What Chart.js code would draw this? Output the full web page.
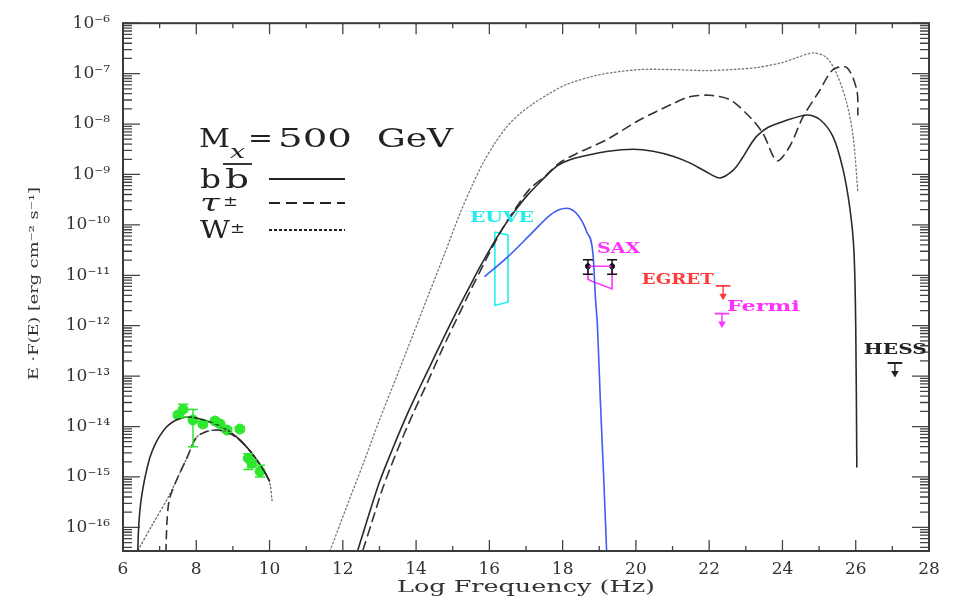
<!doctype html>
<html>
<head>
<meta charset="utf-8">
<title>SED M_x = 500 GeV</title>
<script src="https://cdn.jsdelivr.net/npm/chart.js"></script>
<style>
  html, body { margin: 0; padding: 0; background: #fff; }
  #wrap { width: 956px; height: 603px; }
</style>
</head>
<body>
<div id="wrap"><canvas id="sed"></canvas></div>
<script>
// x = log frequency (Hz), y = log10 of E·F(E) [erg cm^-2 s^-1]

// b bbar (solid)
const bbLowX = [6.40, 6.42, 6.47, 6.55, 6.65, 6.75, 6.88, 7.0, 7.2, 7.4, 7.6, 7.8, 8.0, 8.2, 8.45, 8.7, 8.95, 9.2, 9.45, 9.65, 9.85, 10.0];
const bbLowLogF = [-16.6, -16.1, -15.6, -15.2, -14.85, -14.58, -14.35, -14.19, -14.0, -13.89, -13.83, -13.81, -13.83, -13.87, -13.93, -14.01, -14.12, -14.27, -14.47, -14.66, -14.88, -15.08];
const bbHighX = [12.41, 12.71, 13.01, 13.36, 13.75, 14.05, 14.38, 14.75, 15.12, 15.45, 15.74, 16.05, 16.37, 16.7, 17.03, 17.44, 17.85, 18.2, 18.55, 19.24, 19.92, 20.47, 21.01, 21.47, 21.88, 22.29, 22.65, 22.9, 23.11, 23.3, 23.6, 24.02, 24.67, 25.02, 25.38, 25.65, 25.84, 25.95, 26.0, 26.03];
const bbHighLogF = [-16.45, -15.75, -15.08, -14.44, -13.77, -13.3, -12.8, -12.24, -11.7, -11.24, -10.84, -10.44, -10.06, -9.72, -9.42, -9.11, -8.83, -8.71, -8.64, -8.54, -8.5, -8.54, -8.64, -8.77, -8.93, -9.07, -8.92, -8.68, -8.43, -8.24, -8.07, -7.95, -7.82, -7.91, -8.25, -8.89, -9.67, -10.5, -12.0, -14.8];

// tau+- (dashed)
const tauLowX = [7.17, 7.2, 7.25, 7.33, 7.5, 7.74, 8.0, 8.28, 8.56, 8.8, 9.0, 9.2, 9.45, 9.65, 9.85, 10.0];
const tauLowLogF = [-16.5, -15.9, -15.5, -15.3, -15.0, -14.63, -14.22, -14.1, -14.07, -14.1, -14.17, -14.28, -14.47, -14.66, -14.88, -15.08];
const tauHighX = [12.55, 12.8, 13.1, 13.5, 13.9, 14.3, 14.7, 15.1, 15.5, 15.9, 16.3, 16.7, 17.1, 17.5, 17.9, 18.4, 19.2, 20.1, 21.0, 21.47, 22.02, 22.57, 23.11, 23.47, 23.85, 24.2, 24.56, 25.02, 25.38, 25.76, 26.03, 26.06];
const tauHighLogF = [-16.45, -15.88, -15.2, -14.45, -13.77, -13.14, -12.49, -11.88, -11.28, -10.7, -10.15, -9.69, -9.29, -9.05, -8.78, -8.58, -8.31, -7.92, -7.6, -7.46, -7.43, -7.52, -7.86, -8.19, -8.73, -8.44, -7.86, -7.33, -6.92, -6.88, -7.33, -7.82];

// W+- (dotted)
const wLowX = [6.41, 6.8, 7.28, 7.5, 7.74, 8.0, 8.28, 8.56, 8.8, 9.0, 9.2, 9.45, 9.65, 9.85, 10.0, 10.07];
const wLowLogF = [-16.45, -15.95, -15.34, -15.0, -14.63, -14.22, -14.1, -14.07, -14.1, -14.17, -14.28, -14.47, -14.66, -14.88, -15.1, -15.47];
const wHighX = [11.65, 12.1, 12.55, 13.0, 13.48, 13.93, 14.38, 14.79, 15.2, 15.53, 15.83, 16.15, 16.48, 16.84, 17.19, 17.65, 18.12, 19.02, 20.11, 21.01, 21.94, 22.8, 23.3, 24.0, 24.4, 24.83, 25.2, 25.49, 25.76, 25.93, 26.06];
const wHighLogF = [-16.47, -15.6, -14.75, -13.87, -12.99, -12.15, -11.31, -10.55, -9.77, -9.22, -8.77, -8.38, -8.05, -7.79, -7.6, -7.39, -7.21, -7.02, -6.92, -6.92, -6.94, -6.91, -6.88, -6.78, -6.68, -6.59, -6.68, -7.02, -7.6, -8.25, -9.36];

// blue curve
const blueX = [15.88, 16.48, 17.19, 17.65, 17.9, 18.12, 18.42, 18.66, 18.83, 18.9, 18.95, 19.03, 19.12, 19.2];
const blueLogF = [-11.02, -10.65, -10.14, -9.81, -9.7, -9.67, -9.81, -10.14, -10.59, -11.5, -12.0, -13.5, -15.0, -16.47];

// radio data (green)
const radioX = [7.5, 7.64, 7.91, 8.18, 8.51, 8.65, 8.84, 9.19, 9.42, 9.52, 9.74];
const radioLogF = [-13.77, -13.66, -13.87, -13.95, -13.89, -13.95, -14.07, -14.05, -14.63, -14.73, -14.89];
const radioErrLo = [-13.82, -13.81, -14.4, -14.0, -13.94, -14.0, -14.12, -14.1, -14.85, -14.8, -15.0];
const radioErrHi = [-13.72, -13.56, -13.66, -13.9, -13.84, -13.9, -14.02, -14.0, -14.54, -14.66, -14.77];

// EUVE box
const euveX = [16.15, 16.33, 16.51, 16.51, 16.15, 16.15];
const euveLogF = [-10.14, -10.17, -10.2, -11.53, -11.6, -10.14];

// SAX points and bow-tie
const saxX = [18.69, 19.35];
const saxLogF = [-10.82, -10.82];
const saxErrLo = [-10.98, -10.98];
const saxErrHi = [-10.69, -10.69];
const saxBoxX = [18.69, 19.35, 19.35, 18.8, 18.69, 18.69];
const saxBoxLogF = [-10.82, -10.82, -11.27, -11.12, -11.08, -10.82];

// upper limits
const ulNames = ['EGRET', 'Fermi', 'HESS'];
const ulX = [22.38, 22.35, 27.07];
const ulLogF = [-11.21, -11.76, -12.74];

const yDecades = [-16, -15, -14, -13, -12, -11, -10, -9, -8, -7, -6];

const SERIF = '"DejaVu Serif", "Liberation Serif", serif';
const pts = (xs, ys) => xs.map((x, i) => ({ x: x, y: Math.pow(10, ys[i]) }));
const SUP = { '-': '\u207B', '0': '\u2070', '1': '\u00B9', '2': '\u00B2', '3': '\u00B3', '4': '\u2074', '5': '\u2075', '6': '\u2076', '7': '\u2077', '8': '\u2078', '9': '\u2079' };
const sup = s => String(s).split('').map(c => SUP[c] || c).join('');

function curve(label, xs, ys, color, width, dash, mono) {
    return {
        label: label, data: pts(xs, ys), borderColor: color, borderWidth: width,
        borderDash: dash || [], pointRadius: 0, fill: false,
        tension: 0.3, cubicInterpolationMode: mono ? 'monotone' : 'default', borderCapStyle: 'round'
    };
}

const datasets = [
    curve('bb low', bbLowX, bbLowLogF, '#2a2a2a', 1.6),
    curve('bb', bbHighX, bbHighLogF, '#2a2a2a', 1.6),
    curve('tau low', tauLowX, tauLowLogF, '#333', 1.6, [8, 6]),
    curve('tau', tauHighX, tauHighLogF, '#333', 1.6, [9, 6]),
    curve('W low', wLowX, wLowLogF, '#666', 1.3, [1.5, 2.5]),
    curve('W', wHighX, wHighLogF, '#777', 1.3, [1.5, 2.5]),
    curve('synch', blueX, blueLogF, '#3f5cf5', 1.6, null, true),
    { label: 'EUVE', data: pts(euveX, euveLogF), borderColor: '#22f0f0', borderWidth: 1.6, pointRadius: 0, tension: 0, fill: false },
    { label: 'SAX box', data: pts(saxBoxX, saxBoxLogF), borderColor: '#ff33ff', borderWidth: 1.6, pointRadius: 0, tension: 0, fill: false },
    { label: 'radio', data: pts(radioX, radioLogF), showLine: false, pointRadius: 5, pointBackgroundColor: '#2ee82e', pointBorderColor: '#2ee82e',
      borderColor: '#2ee82e', errLo: radioErrLo, errHi: radioErrHi, capW: 5 },
    { label: 'SAX', data: pts(saxX, saxLogF), showLine: false, pointRadius: 2.5, pointBackgroundColor: '#111', pointBorderColor: '#111',
      borderColor: '#111', errLo: saxErrLo, errHi: saxErrHi, capW: 5 }
];

const ulColors = ['#ff3b3b', '#ff33ff', '#222'];
ulNames.forEach((n, i) => {
    const x = ulX[i], y = Math.pow(10, ulLogF[i]);
    datasets.push({ label: n + ' bar', data: [{ x: x - 0.2, y: y }, { x: x + 0.2, y: y }],
        borderColor: ulColors[i], borderWidth: 1.8, pointRadius: 0 });
    datasets.push({ label: n + ' arrow', data: [{ x: x, y: y }, { x: x, y: y * Math.pow(10, -0.2) }],
        borderColor: ulColors[i], borderWidth: 1.4, pointRadius: [0, 3], pointStyle: 'triangle',
        rotation: 180, pointBackgroundColor: ulColors[i], pointBorderColor: ulColors[i] });
});

// instrument labels: anchor in data units, drawn width in px
const labels = [
    { text: 'EUVE', x: 15.47, logF: -9.87, w: 64, color: '#22eeee' },
    { text: 'SAX', x: 18.94, logF: -10.49, w: 43, color: '#ff33ff' },
    { text: 'EGRET', x: 20.16, logF: -11.1, w: 72, color: '#ff3b3b' },
    { text: 'Fermi', x: 22.48, logF: -11.63, w: 73, color: '#ff33ff' },
    { text: 'HESS', x: 26.22, logF: -12.48, w: 63, color: '#222' }
];

// draw text stretched to a given width
function fitText(ctx, text, left, width, base, font) {
    ctx.font = font;
    const m = ctx.measureText(text).width;
    ctx.save();
    ctx.translate(left, base);
    ctx.scale(width / m, 1);
    ctx.fillText(text, 0, 0);
    ctx.restore();
}

const extras = {
    id: 'extras',
    afterDatasetsDraw(chart) {
        const { ctx, chartArea: a, scales: { x, y } } = chart;
        ctx.save();
        // error bars
        chart.data.datasets.forEach(ds => {
            if (!ds.errLo) return;
            ctx.strokeStyle = ds.borderColor;
            ctx.lineWidth = 1.5;
            ctx.beginPath();
            ds.data.forEach((p, j) => {
                const px = x.getPixelForValue(p.x);
                const y1 = y.getPixelForValue(Math.pow(10, ds.errLo[j]));
                const y2 = y.getPixelForValue(Math.pow(10, ds.errHi[j]));
                ctx.moveTo(px, y1); ctx.lineTo(px, y2);
                ctx.moveTo(px - ds.capW, y1); ctx.lineTo(px + ds.capW, y1);
                ctx.moveTo(px - ds.capW, y2); ctx.lineTo(px + ds.capW, y2);
            });
            ctx.stroke();
        });
        // inner ticks
        ctx.strokeStyle = '#444';
        ctx.lineWidth = 1.3;
        ctx.beginPath();
        for (let v = 6; v <= 28; v++) {
            const px = x.getPixelForValue(v);
            const len = v % 2 === 0 ? 11 : 5;
            ctx.moveTo(px, a.bottom); ctx.lineTo(px, a.bottom - len);
            ctx.moveTo(px, a.top); ctx.lineTo(px, a.top + len);
        }
        for (let e = -17; e <= -6; e++) {
            for (let k = 1; k <= 9; k++) {
                const v = k * Math.pow(10, e);
                if (v < y.min || v > y.max * 1.0001) continue;
                const py = y.getPixelForValue(v);
                const len = k === 1 ? 17 : 9;
                ctx.moveTo(a.left, py); ctx.lineTo(a.left + len, py);
                ctx.moveTo(a.right, py); ctx.lineTo(a.right - len, py);
            }
        }
        ctx.stroke();
        ctx.lineWidth = 2;
        ctx.strokeStyle = '#3a3a3a';
        ctx.strokeRect(a.left, a.top, a.right - a.left, a.bottom - a.top);

        // instrument labels
        ctx.textBaseline = 'middle';
        ctx.textAlign = 'left';
        labels.forEach(l => {
            ctx.fillStyle = l.color;
            fitText(ctx, l.text, x.getPixelForValue(l.x), l.w, y.getPixelForValue(Math.pow(10, l.logF)), 'bold 15px ' + SERIF);
        });

        // legend block
        ctx.fillStyle = '#222';
        ctx.textBaseline = 'alphabetic';
        fitText(ctx, 'M', 199, 31, 147, '26px ' + SERIF);
        fitText(ctx, 'x', 230, 15, 158, 'italic 19px ' + SERIF);
        fitText(ctx, '=', 248, 25, 147, '26px ' + SERIF);
        fitText(ctx, '500', 278, 74, 147, '26px ' + SERIF);
        fitText(ctx, 'GeV', 377, 76, 147, '26px ' + SERIF);
        fitText(ctx, 'b', 200, 21, 188, '26px ' + SERIF);
        fitText(ctx, 'b', 225, 24, 188, '26px ' + SERIF);
        fitText(ctx, '\u03C4', 200, 20, 211, 'italic 25px ' + SERIF);
        fitText(ctx, '\u00B1', 223, 15, 206, '15px ' + SERIF);
        fitText(ctx, 'W', 200, 30, 238, '25px ' + SERIF);
        fitText(ctx, '\u00B1', 230, 15, 233, '15px ' + SERIF);
        ctx.strokeStyle = '#222';
        ctx.lineWidth = 1.8;
        ctx.beginPath(); ctx.moveTo(223, 164); ctx.lineTo(252, 164); ctx.stroke();
        ctx.lineWidth = 2;
        ctx.beginPath(); ctx.moveTo(269, 179); ctx.lineTo(345, 179); ctx.stroke();
        ctx.setLineDash([11, 6]);
        ctx.beginPath(); ctx.moveTo(269, 203); ctx.lineTo(345, 203); ctx.stroke();
        ctx.setLineDash([3, 2]);
        ctx.beginPath(); ctx.moveTo(269, 230); ctx.lineTo(345, 230); ctx.stroke();
        ctx.setLineDash([]);

        // axis titles
        ctx.fillStyle = '#333';
        ctx.textBaseline = 'middle';
        fitText(ctx, 'Log Frequency (Hz)', 397, 258, 588, '16px ' + SERIF);
        ctx.translate(35, 380);
        ctx.rotate(-Math.PI / 2);
        fitText(ctx, 'E \u00B7F(E) [erg cm\u207B\u00B2 s\u207B\u00B9]', 0, 193, 0, '13px ' + SERIF);
        ctx.restore();
    }
};

new Chart(document.getElementById('sed'), {
    type: 'line',
    data: { datasets: datasets },
    options: {
        responsive: true,
        maintainAspectRatio: false,
        animation: false,
        layout: { padding: { top: 15, right: 27, left: 0, bottom: 0 } },
        plugins: { legend: { display: false }, tooltip: { enabled: false } },
        scales: {
            x: {
                type: 'linear', min: 6, max: 28,
                grid: { display: false, drawTicks: false },
                border: { display: false },
                ticks: { stepSize: 2, padding: 8, color: '#333', font: { family: SERIF, size: 17 } },
                afterFit: s => { s.height = 52; }
            },
            y: {
                type: 'logarithmic', min: 3.4e-17, max: 1e-6,
                grid: { display: false, drawTicks: false },
                border: { display: false },
                afterBuildTicks: s => { s.ticks = yDecades.map(e => ({ value: Math.pow(10, e) })); },
                ticks: {
                    autoSkip: false, padding: 13, color: '#333', font: { family: SERIF, size: 17 },
                    callback: v => '10' + sup(Math.round(Math.log10(v)))
                },
                afterFit: s => { s.width = 123; }
            }
        }
    },
    plugins: [extras]
});
</script>
</body>
</html>
